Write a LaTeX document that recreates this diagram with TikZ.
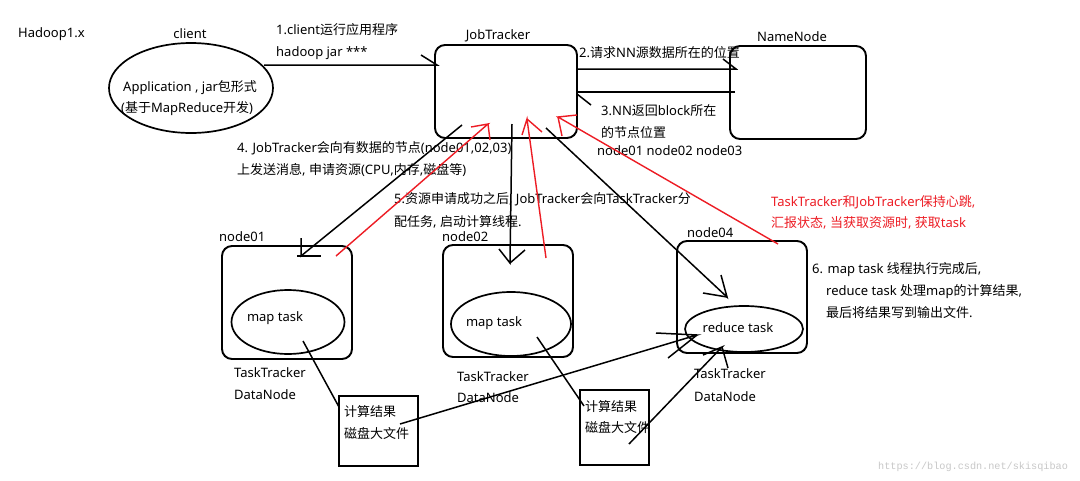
\documentclass[tikz,border=0pt]{standalone}
\usepackage{fontspec}
\usetikzlibrary{shapes.geometric}
\setmainfont{Noto Sans}
\newfontfamily\cjkfont{Noto Sans CJK SC}
\newfontfamily\wmfont{Liberation Mono}
\XeTeXinterchartokenstate=1
\newXeTeXintercharclass\CJKclass
\makeatletter
\count@="3000
\loop \XeTeXcharclass\count@=\CJKclass \ifnum\count@<"303F \advance\count@ 1 \repeat
\count@="4E00
\loop \XeTeXcharclass\count@=\CJKclass \ifnum\count@<"9FFF \advance\count@ 1 \repeat
\count@="FF00
\loop \XeTeXcharclass\count@=\CJKclass \ifnum\count@<"FFEF \advance\count@ 1 \repeat
\makeatother
\XeTeXinterchartoks 0 \CJKclass = {\cjkfont}
\XeTeXinterchartoks 4095 \CJKclass = {\cjkfont}
\XeTeXinterchartoks \CJKclass 0 = {\rmfamily}
\XeTeXinterchartoks \CJKclass 4095 = {\rmfamily}
\definecolor{pred}{RGB}{237,28,36}
\definecolor{wm}{RGB}{200,200,200}
\tikzset{
  lbl/.style={inner sep=0pt, anchor=west, text height=11pt, text depth=2pt, font=\fontsize{13}{15}\selectfont},
  clbl/.style={lbl, anchor=center},
  rbox/.style={draw, line width=1.9pt, rounded corners=10pt, inner sep=0pt},
  sbox/.style={draw, line width=1.7pt, inner sep=0pt},
  ell/.style={draw, ellipse, line width=1.7pt, inner sep=0pt},
  conn/.style={line width=1.5pt, black},
  rconn/.style={line width=1.4pt, pred},
}
\begin{document}
\begin{tikzpicture}[x=1pt,y=-1pt]
\useasboundingbox (0,0) rectangle (1080,480);
\fill[white] (0,0) rectangle (1080,480);

% boxes
\node[rbox, minimum width=142pt, minimum height=93pt] (jt) at (506,91.5) {};
\node[rbox, minimum width=136pt, minimum height=93pt] (nn) at (798,92.5) {};
\node[rbox, minimum width=130pt, minimum height=113pt] (n1) at (287,302.5) {};
\node[rbox, minimum width=130pt, minimum height=112pt] (n2) at (508,301) {};
\node[rbox, minimum width=130pt, minimum height=112pt] (n4) at (742,297) {};
\node[sbox, minimum width=79pt, minimum height=70pt] (r1) at (378.5,431) {};
\node[sbox, minimum width=69pt, minimum height=75pt] (r2) at (614.5,427.5) {};

% ellipses
\node[ell, minimum width=164pt, minimum height=90pt] (cl) at (191,88) {};
\node[ell, minimum width=113pt, minimum height=64pt] (m1) at (288,322) {};
\node[ell, minimum width=120pt, minimum height=64pt] (m2) at (511,324) {};
\node[ell, minimum width=118pt, minimum height=46pt] (rd) at (744,329) {};

% labels
\node[lbl] (t0) at (18,33) {Hadoop1.x};
\node[clbl] (tcl) at (190,34) {client};
\node[lbl] (ta1) at (123,87) {Application , jar包形式};
\node[lbl] (ta2) at (121,108) {(基于MapReduce开发)};
\node[lbl] (t1a) at (276,30) {1.client运行应用程序};
\node[lbl] (t1b) at (276,52) {hadoop jar ***};
\node[clbl] (tjt) at (498,35) {JobTracker};
\node[clbl] (tnn) at (792,37) {NameNode};
\node[lbl] (t2) at (579,53) {2.请求NN源数据所在的位置};
\node[lbl] (t3a) at (601,111) {3.NN返回block所在};
\node[lbl] (t3b) at (601,133) {的节点位置};
\node[lbl] (t3c) at (597,151) {node01 node02 node03};
\node[lbl] (t4a) at (237,148) {4. JobTracker会向有数据的节点(node01,02,03)};
\node[lbl] (t4b) at (237,170) {上发送消息, 申请资源(CPU,内存,磁盘等)};
\node[lbl] (t5a) at (394,199) {5.资源申请成功之后, JobTracker会向TaskTracker分};
\node[lbl] (t5b) at (394,222) {配任务, 启动计算线程.};
\node[lbl] (tn1) at (219,237) {node01};
\node[lbl] (tn2) at (442,237) {node02};
\node[lbl] (tn4) at (687,233) {node04};
\node[clbl] (tm1) at (275,317) {map task};
\node[clbl] (tm2) at (494,322) {map task};
\node[clbl] (trd) at (738,328) {reduce task};
\node[lbl] (tt1) at (234,373) {TaskTracker};
\node[lbl] (td1) at (234,395) {DataNode};
\node[lbl] (tt2) at (457,377) {TaskTracker};
\node[lbl] (td2) at (457,398) {DataNode};
\node[lbl] (tt4) at (694,374) {TaskTracker};
\node[lbl] (td4) at (694,397) {DataNode};
\node[lbl] (tr1a) at (344,412) {计算结果};
\node[lbl] (tr1b) at (344,434) {磁盘大文件};
\node[lbl] (tr2a) at (585,407) {计算结果};
\node[lbl] (tr2b) at (585,428) {磁盘大文件};
\node[lbl, text=pred] (tha) at (771,202) {TaskTracker和JobTracker保持心跳,};
\node[lbl, text=pred] (thb) at (771,223) {汇报状态, 当获取资源时, 获取task};
\node[lbl] (t6a) at (812,269) {6. map task 线程执行完成后,};
\node[lbl] (t6b) at (826,291) {reduce task 处理map的计算结果,};
\node[lbl] (t6c) at (826,313) {最后将结果写到输出文件.};
\node[inner sep=0pt, anchor=west, text=wm, font=\wmfont\fontsize{10.2}{12}\selectfont] (twm) at (878,467) {https://blog.csdn.net/skisqibao};

% connector end points
\coordinate (a1s) at (264,65);  \coordinate (a1t) at (437,65);
\coordinate (a2s) at (577,69);  \coordinate (a2t) at (736,69);
\coordinate (a3s) at (735,92);  \coordinate (a3t) at (577,92);
\coordinate (a4s) at (462,125); \coordinate (a4t) at (301,256);
\coordinate (b1s) at (336,256); \coordinate (b1t) at (488,124);
\coordinate (a5s) at (512,124); \coordinate (a5t) at (510,263);
\coordinate (b2s) at (546,258); \coordinate (b2t) at (527,119);
\coordinate (a6s) at (546,128); \coordinate (a6t) at (727,297);
\coordinate (b3s) at (778,244); \coordinate (b3t) at (558,117);
\coordinate (l1s) at (303,341); \coordinate (l1t) at (339,407);
\coordinate (l2s) at (537,337); \coordinate (l2t) at (584,406);
\coordinate (a7s) at (400,424); \coordinate (a7t) at (697,335);
\coordinate (a8s) at (629,444); \coordinate (a8t) at (722,347);

% black connectors
\draw[conn] (a1s) -- (a1t) -- ++(-16,-10);
\draw[conn] (a2s) -- (a2t) -- ++(-13,-10);
\draw[conn] (a3s) -- (a3t); \draw[conn] (577,94) -- (591,105);
\draw[conn] (a4s) -- (a4t) -- ++(0,-18);
\draw[conn] (297,256) -- (321,256);
\draw[conn] (a5s) -- (a5t) -- ++(-11,-14); \draw[conn] (a5t) -- ++(15,-13);
\draw[conn] (a6s) -- (a6t) -- ++(-6,-22); \draw[conn] (a6t) -- ++(-24,-4);
\draw[conn] (l1s) -- (l1t);
\draw[conn] (l2s) -- (l2t);
\draw[conn] (a7s) -- (a7t) -- ++(-41,-2); \draw[conn] (a7t) -- ++(-29,23);
\draw[conn] (a8s) -- (a8t) -- ++(-19,8); \draw[conn] (a8t) -- ++(6,21);

% red connectors
\draw[rconn] (b1s) -- (b1t) -- ++(-17,3); \draw[rconn] (b1t) -- ++(2,16);
\draw[rconn] (b2s) -- (b2t) -- ++(-5,16); \draw[rconn] (b2t) -- ++(15,13);
\draw[rconn] (b3s) -- (b3t) -- ++(19,-2); \draw[rconn] (b3t) -- ++(4,19);
\end{tikzpicture}
\end{document}
